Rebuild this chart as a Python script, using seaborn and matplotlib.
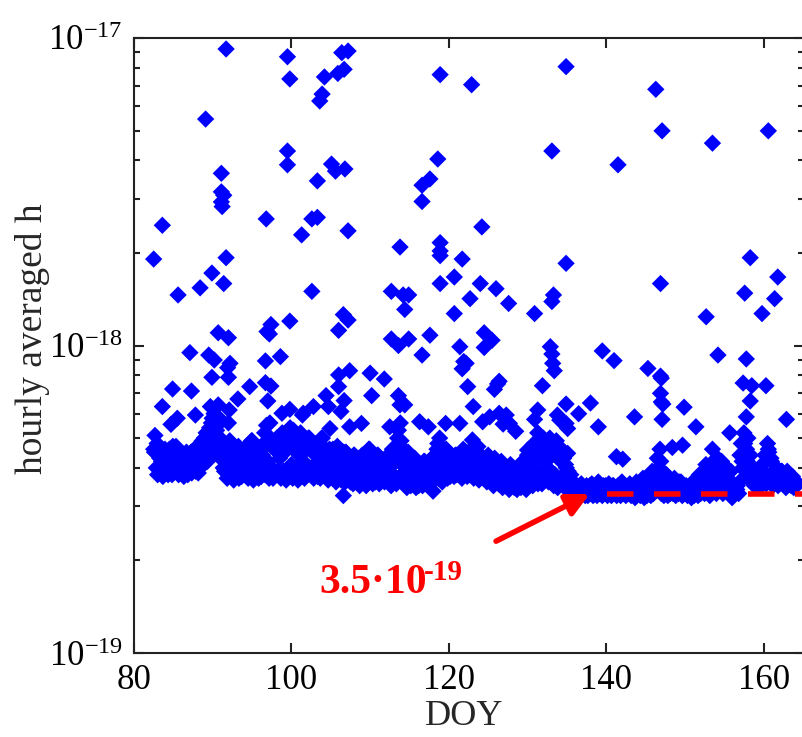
import numpy as np
import pandas as pd
import matplotlib
matplotlib.use("Agg")
import matplotlib.pyplot as plt
import seaborn as sns
from matplotlib.ticker import LogLocator, NullLocator, NullFormatter

# ---------------- data (values in units of 1e-19) ----------------
UNIT = 1e-19

# dense background band, sampled every 4 hours starting at DOY 82.5
BAND_START_DOY = 82.5
BAND_SAMPLES_PER_DAY = 6
band_values = [
    4.6, 5.1, 4.0, 3.8, 4.4, 3.9,   4.2, 3.75, 4.5, 3.9, 4.1, 3.8,
    4.6, 4.0, 3.8, 4.3, 3.9, 4.7,   4.0, 3.8, 4.4, 3.85, 4.2, 3.75,
    4.1, 4.5, 3.8, 3.9, 4.3, 3.85,  4.0, 4.6, 3.9, 4.2, 3.85, 4.4,
    4.3, 4.9, 4.1, 4.6, 5.2, 4.2,   5.0, 4.4, 5.6, 4.6, 6.0, 4.8,
    5.3, 4.5, 5.8, 4.3, 4.9, 4.0,   3.9, 4.7, 3.7, 4.3, 4.9, 3.8,
    4.2, 3.65, 4.6, 3.9, 4.4, 3.7,  4.0, 3.75, 4.5, 3.8, 3.9, 4.2,
    3.7, 4.6, 4.0, 4.9, 3.65, 4.3,  3.9, 4.5, 3.7, 4.1, 3.75, 4.4,
    4.8, 3.8, 5.5, 4.2, 3.7, 5.0,   4.0, 3.7, 4.6, 3.8, 5.0, 3.9,
    4.3, 3.7, 5.2, 3.9, 4.5, 3.65,  4.8, 3.8, 5.4, 4.1, 3.7, 4.6,
    4.0, 5.0, 3.65, 4.4, 5.2, 3.8,  4.2, 3.7, 4.8, 3.9, 5.0, 4.0,
    3.8, 4.5, 3.7, 4.1, 4.8, 3.75,  4.4, 3.7, 5.0, 3.9, 4.2, 3.8,
    4.0, 3.65, 4.6, 3.8, 4.3, 3.7,  4.1, 3.6, 4.7, 3.75, 4.0, 3.65,
    3.9, 4.5, 3.6, 4.1, 3.7, 4.3,   3.6, 4.0, 3.55, 4.4, 3.7, 3.9,
    4.2, 3.5, 3.8, 4.4, 3.6, 3.9,   3.5, 4.1, 4.6, 3.7, 4.0, 3.55,
    4.3, 3.6, 3.9, 4.4, 3.55, 3.8,  3.7, 4.1, 3.6, 4.3, 3.8, 3.65,
    3.9, 3.5, 4.6, 3.7, 4.2, 3.55,  5.0, 4.2, 5.6, 3.8, 4.6, 3.6,
    4.0, 3.45, 4.5, 3.7, 3.5, 4.2,  3.6, 4.3, 3.45, 3.9, 3.5, 4.1,
    3.8, 3.5, 4.2, 3.6, 3.9, 3.55,  4.0, 3.6, 4.3, 3.7, 3.65, 4.1,
    4.6, 3.7, 5.0, 4.2, 3.6, 4.4,   3.9, 4.6, 3.7, 4.2, 3.75, 4.4,
    4.0, 3.75, 4.4, 3.8, 4.1, 3.8,  4.3, 3.7, 4.6, 3.9, 4.1, 3.75,
    4.5, 3.8, 4.0, 4.6, 3.7, 4.2,   3.9, 4.5, 3.65, 4.1, 3.8, 4.3,
    3.7, 4.2, 3.6, 4.4, 3.8, 3.65,  4.0, 3.5, 4.3, 3.6, 3.9, 3.55,
    3.7, 4.2, 3.45, 3.9, 3.5, 4.0,  3.6, 3.4, 4.1, 3.5, 3.8, 3.45,
    3.9, 3.4, 3.6, 4.1, 3.45, 3.7,  3.5, 4.0, 3.4, 4.4, 3.6, 3.8,
    4.2, 3.5, 4.8, 3.7, 4.4, 3.55,  3.9, 4.6, 3.55, 5.0, 3.8, 4.2,
    4.7, 3.6, 5.0, 3.9, 4.4, 3.5,   3.8, 4.9, 3.45, 4.3, 3.7, 4.6,
    4.5, 3.6, 4.1, 3.4, 3.9, 3.5,   3.8, 3.35, 3.6, 3.3, 3.5, 3.3,
    3.4, 3.25, 3.55, 3.3, 3.45, 3.25, 3.5, 3.25, 3.4, 3.3, 3.55, 3.25,
    3.3, 3.45, 3.25, 3.6, 3.3, 3.4, 3.25, 3.5, 3.3, 3.4, 3.25, 3.55,
    3.35, 3.25, 3.5, 3.3, 3.45, 3.25, 3.5, 3.3, 3.25, 3.6, 3.3, 3.4,
    3.25, 3.45, 3.3, 3.55, 3.25, 3.35, 3.4, 3.2, 3.6, 3.3, 3.5, 3.25,
    3.3, 3.7, 3.2, 3.45, 3.25, 3.55, 3.5, 3.25, 3.9, 3.3, 3.6, 3.4,
    4.3, 3.5, 4.6, 3.3, 3.9, 3.25, 3.45, 3.8, 3.25, 3.6, 3.3, 3.5,
    3.3, 3.7, 3.25, 3.45, 3.3, 3.55, 3.6, 3.25, 3.4, 3.3, 3.5, 3.25,
    3.3, 3.45, 3.2, 3.6, 3.25, 3.4, 3.5, 3.25, 3.8, 3.3, 3.6, 3.35,
    3.3, 4.1, 3.45, 3.7, 3.25, 3.9, 4.6, 3.5, 4.0, 3.3, 4.3, 3.6,
    3.4, 4.2, 3.3, 3.8, 3.5, 4.0,  3.6, 3.3, 3.9, 3.2, 3.45, 3.3,
    3.35, 3.5, 3.3, 4.4, 4.8, 4.0, 5.2, 3.9, 4.6, 5.0, 3.7, 4.4,
    3.6, 4.0, 3.5, 3.8, 3.55, 3.9, 3.7, 3.5, 4.1, 3.6, 4.4, 3.55,
    4.8, 4.5, 3.6, 4.2, 3.5, 3.9,  3.7, 4.0, 3.5, 3.8, 3.6, 3.9,
    3.55, 3.8, 3.45, 3.9, 3.6, 3.7, 3.5, 3.75, 3.45, 3.6, 3.5, 3.55,
]

# upper part of the band, sampled every 8 hours starting at DOY 82.6
BAND_B_START_DOY = 82.6
BAND_B_SAMPLES_PER_DAY = 3
band_values_b = [
    4.5, 4.8, 4.3,  4.4, 4.6, 4.2,  4.5, 4.7, 4.3,  4.3, 4.5, 4.2,
    4.4, 4.2, 4.5,  4.5, 4.3, 4.7,  4.7, 5.0, 4.8,  5.4, 5.8, 5.2,
    5.5, 5.0, 4.6,  4.5, 4.8, 4.4,  4.6, 4.3, 4.7,  4.4, 4.6, 4.3,
    4.7, 4.9, 4.5,  4.5, 4.3, 4.6,  5.2, 4.8, 5.6,  4.7, 4.9, 4.5,
    4.9, 5.1, 4.6,  5.2, 5.0, 5.3,  4.9, 5.1, 4.7,  4.8, 4.6, 5.0,
    4.6, 4.8, 4.4,  4.8, 5.0, 4.6,  4.5, 4.4, 4.6,  4.4, 4.6, 4.3,
    4.3, 4.5, 4.2,  4.2, 4.4, 4.1,  4.3, 4.1, 4.4,  4.4, 4.6, 4.2,
    4.2, 4.4, 4.1,  4.1, 4.3, 4.0,  4.4, 4.5, 4.2,  5.3, 4.9, 4.6,
    4.3, 4.4, 4.0,  4.1, 4.2, 3.9,  4.0, 4.2, 3.9,  4.1, 4.3, 4.0,
    4.8, 4.6, 4.3,  4.4, 4.5, 4.2,  4.2, 4.4, 4.1,  4.4, 4.5, 4.3,
    4.4, 4.6, 4.3,  4.3, 4.4, 4.2,  4.2, 4.3, 4.0,  4.1, 4.2, 3.9,
    4.0, 4.1, 3.8,  3.9, 4.0, 3.8,  3.8, 4.0, 3.9,  4.2, 4.3, 4.0,
    4.6, 4.5, 4.3,  4.7, 4.8, 4.4,  4.8, 4.6, 4.5,  4.6, 4.7, 4.2,
    4.3, 4.0, 3.8,  3.5, 3.4, 3.45, 3.45, 3.5, 3.4, 3.45, 3.5, 3.4,
    3.45, 3.5, 3.4, 3.45, 3.5, 3.4, 3.45, 3.5, 3.4, 3.45, 3.5, 3.4,
    3.45, 3.5, 3.4, 3.45, 3.5, 3.4, 3.4, 3.5, 3.45, 3.6, 3.5, 3.7,
    4.0, 4.2, 3.6,  3.6, 3.5, 3.55, 3.5, 3.45, 3.6, 3.4, 3.5, 3.45,
    3.45, 3.4, 3.5, 3.6, 3.7, 3.5,  3.8, 3.9, 3.6,  4.2, 3.9, 3.8,
    3.9, 3.7, 3.8,  3.5, 3.6, 3.4,  3.4, 3.6, 4.2,  4.8, 4.2, 4.0,
    3.8, 3.7, 3.9,  3.8, 3.9, 3.7,  4.6, 4.3, 3.8,  3.8, 3.7, 3.9,
    3.7, 3.8, 3.6,  3.6, 3.65, 3.55,
]

# scattered high values
outlier_doy = [
    91.7, 99.5, 99.8, 104.2, 103.9, 103.6, 106.4, 107.2, 105.9, 106.7, 118.9, 122.9,
    89.1, 99.5, 99.5, 105.1, 105.6, 106.8, 103.3, 91.1, 91.1, 91.4, 91.1, 91.2,
    118.6, 117.6, 116.6, 116.6, 83.6, 96.8, 102.6, 103.3, 101.3, 107.2, 82.5, 91.7,
    89.9, 113.8, 118.9, 118.9, 118.9, 121.7, 120.7, 118.9, 91.4, 88.4,
    134.9, 146.3, 147.1, 160.6, 153.5, 133.1, 141.5, 124.2, 134.9, 158.3, 161.8, 146.9,
    124.0, 126.0,
    85.6, 90.7, 92.0, 87.1, 89.5, 90.2, 92.2, 91.9, 89.9, 92.0, 84.9, 87.3,
    83.6, 87.8, 85.5, 84.7, 90.7, 92.1, 89.7, 92.0, 96.9, 97.4, 97.2, 99.8,
    96.7, 98.6, 96.7, 97.4, 94.7, 93.2, 97.0, 98.8, 99.8, 101.4,
    102.6, 112.7, 114.2, 114.9, 114.4, 106.6, 107.2, 106.0, 120.7, 112.7, 113.6, 114.9,
    117.6, 116.6, 121.4, 121.9, 121.7, 106.0, 107.4, 110.0, 111.8, 106.0, 104.4, 106.7,
    110.2, 113.6, 113.8, 114.4, 102.8, 104.7, 101.5, 106.3, 116.3, 117.4, 119.6, 121.4,
    108.9, 112.5, 107.4, 104.9, 106.6, 118.0,
    122.7, 127.6, 130.9, 133.3, 133.1, 124.5, 125.5, 124.5, 132.9, 133.1, 133.2, 133.4,
    139.5, 141.0, 122.2, 122.4, 126.2, 126.4, 125.8, 131.9, 123.1, 134.9, 138.0, 136.5,
    131.3, 124.3, 125.2, 126.4, 127.3, 126.9, 127.7, 128.5, 130.9, 131.3, 133.8, 134.1,
    134.9, 135.1, 139.0, 143.6, 141.3, 142.1, 130.0, 123.0, 123.7, 135.1,
    157.6, 161.4, 159.8, 152.7, 154.2, 157.8, 145.3, 146.9, 147.0, 157.4, 158.5, 160.3,
    146.9, 147.0, 147.2, 158.3, 149.9, 147.1, 157.8, 162.9, 151.4, 155.7, 149.7, 148.4,
]
outlier_values = [
    92.1, 86.9, 73.6, 74.7, 65.7, 62.4, 89.6, 90.7, 76.7, 79.1, 76.0, 70.5,
    54.5, 42.9, 38.7, 38.9, 36.9, 37.5, 34.3, 36.3, 31.6, 30.8, 29.3, 28.3,
    40.4, 34.8, 33.2, 29.4, 24.6, 25.8, 25.8, 26.1, 22.9, 23.6, 19.1, 19.3,
    17.2, 20.9, 21.6, 20.3, 19.6, 19.1, 16.7, 15.9, 15.9, 15.4,
    80.7, 68.1, 49.9, 49.9, 45.5, 42.9, 38.7, 24.3, 18.5, 19.3, 16.7, 15.9,
    15.9, 15.3,
    14.6, 11.0, 10.6, 9.48, 9.31, 8.97, 8.75, 8.47, 7.88, 7.88, 7.22, 7.11,
    6.33, 5.94, 5.8, 5.54, 6.41, 6.17, 6.33, 5.6, 11.1, 11.7, 10.9, 12.0,
    8.91, 9.2, 7.57, 7.38, 7.35, 6.7, 6.6, 6.02, 6.2, 5.94,
    15.0, 15.0, 14.6, 14.6, 13.1, 12.6, 12.1, 11.2, 12.7, 10.5, 10.0, 10.5,
    10.8, 9.31, 9.91, 8.87, 8.4, 8.02, 8.28, 8.13, 7.78, 7.35, 6.87, 6.62,
    6.87, 6.87, 6.41, 6.41, 6.33, 6.33, 6.02, 6.1, 5.65, 5.44, 5.58, 5.58,
    5.58, 5.44, 5.44, 5.37, 3.25, 3.36,
    14.2, 13.7, 12.7, 14.6, 13.9, 11.0, 10.4, 9.85, 9.91, 9.38, 8.75, 8.28,
    9.6, 8.93, 8.75, 7.35, 7.5, 7.65, 7.2, 7.4, 6.33, 6.45, 6.5, 6.0,
    6.17, 5.65, 5.86, 6.02, 5.94, 5.55, 5.58, 5.26, 5.75, 5.2, 5.94, 5.72,
    5.58, 5.37, 5.44, 5.86, 4.35, 4.27, 4.57, 4.93, 4.69, 4.46,
    14.8, 14.2, 12.7, 12.4, 9.31, 9.04, 8.42, 7.95, 7.83, 7.55, 7.4, 7.4,
    6.99, 6.55, 6.45, 6.6, 6.3, 5.75, 5.86, 5.75, 5.44, 5.2, 4.74, 4.66,
]

# annotation
floor_level = 3.3            # red dashed level (x 1e-19)
floor_start_doy = 140.1
arrow_tail = (126.0, 2.31)   # (DOY, x 1e-19)
arrow_head = (137.9, 3.29)
annotation_main = "3.5\u00b710"
annotation_exp = "-19"

x_ticks = [80, 100, 120, 140, 160]
y_ticks = [1e-19, 1e-18, 1e-17]
y_tick_labels = [r"$\mathregular{10^{-19}}$", r"$\mathregular{10^{-18}}$", r"$\mathregular{10^{-17}}$"]

# ---------------- build table ----------------
band_doy = BAND_START_DOY + np.arange(len(band_values)) / BAND_SAMPLES_PER_DAY
band_b_doy = BAND_B_START_DOY + np.arange(len(band_values_b)) / BAND_B_SAMPLES_PER_DAY
df = pd.DataFrame({
    "DOY": np.concatenate([band_doy, band_b_doy, np.array(outlier_doy)]),
    "h": np.concatenate([np.array(band_values), np.array(band_values_b),
                         np.array(outlier_values)]) * UNIT,
})

# ---------------- style ----------------
sns.set_theme(style="ticks")
plt.rcParams["font.family"] = ["Liberation Serif", "DejaVu Serif"]
plt.rcParams["mathtext.fontset"] = "custom"
plt.rcParams["mathtext.rm"] = "Liberation Serif"
plt.rcParams["mathtext.it"] = "Liberation Serif:italic"
plt.rcParams["mathtext.bf"] = "Liberation Serif:bold"

W, H = 803, 737
fig = plt.figure(figsize=(W / 100, H / 100), dpi=100)
left_px, right_px, top_px, bottom_px = 134, 804.5, 38, 653
ax = fig.add_axes([left_px / W, (H - bottom_px) / H,
                   (right_px - left_px) / W, (bottom_px - top_px) / H])

sns.scatterplot(data=df, x="DOY", y="h", marker="D", s=78, color="#0000ff",
                edgecolor="none", linewidth=0, ax=ax, legend=False, zorder=3)

ax.set_yscale("log")
ax.set_ylim(1e-19, 1e-17)
px_per_day = 7.87
ax.set_xlim(80, 80 + (right_px - left_px) / px_per_day)

# dashed reference level
ax.plot([floor_start_doy, 170], [floor_level * UNIT] * 2, color="#ff0000",
        lw=4.0, dashes=(4.77, 3.69), solid_capstyle="butt", zorder=5)

# arrow
ax.annotate("", xy=(arrow_head[0], arrow_head[1] * UNIT),
            xytext=(arrow_tail[0], arrow_tail[1] * UNIT),
            arrowprops=dict(arrowstyle="-|>", color="#ff0000", lw=4.0,
                            mutation_scale=34, shrinkA=0, shrinkB=0),
            zorder=6, annotation_clip=False)

# annotation text
fig.text(319 / W, 1 - 593 / H, annotation_main, color="#ff0000", fontsize=30,
         fontweight="bold", ha="left", va="baseline")
fig.text(424 / W, 1 - 580 / H, annotation_exp, color="#ff0000", fontsize=21,
         fontweight="bold", ha="left", va="baseline")

# ticks
ax.set_xticks(x_ticks)
ax.set_xticklabels([str(t) for t in x_ticks])
ax.xaxis.set_minor_locator(NullLocator())
ax.set_yticks(y_ticks)
ax.set_yticklabels(y_tick_labels)
ax.yaxis.set_minor_locator(LogLocator(base=10, subs=np.arange(2, 10)))
ax.yaxis.set_minor_formatter(NullFormatter())
ax.tick_params(which="both", direction="in", top=True, right=True,
               color="#222222", width=1.5, labelcolor="black")
ax.tick_params(which="major", length=7)
ax.tick_params(which="minor", length=4)
ax.tick_params(axis="x", labelsize=25, pad=8)
ax.tick_params(axis="y", labelsize=25, pad=8)

for sp in ax.spines.values():
    sp.set_linewidth(1.5)
    sp.set_color("#222222")

ax.set_xlabel("DOY", fontsize=26)
ax.set_ylabel("hourly averaged h", fontsize=27)
ax.xaxis.set_label_coords(0.492, -0.076)
ax.yaxis.set_label_coords(-0.125, 0.511)

fig.savefig("out.png", dpi=100)
